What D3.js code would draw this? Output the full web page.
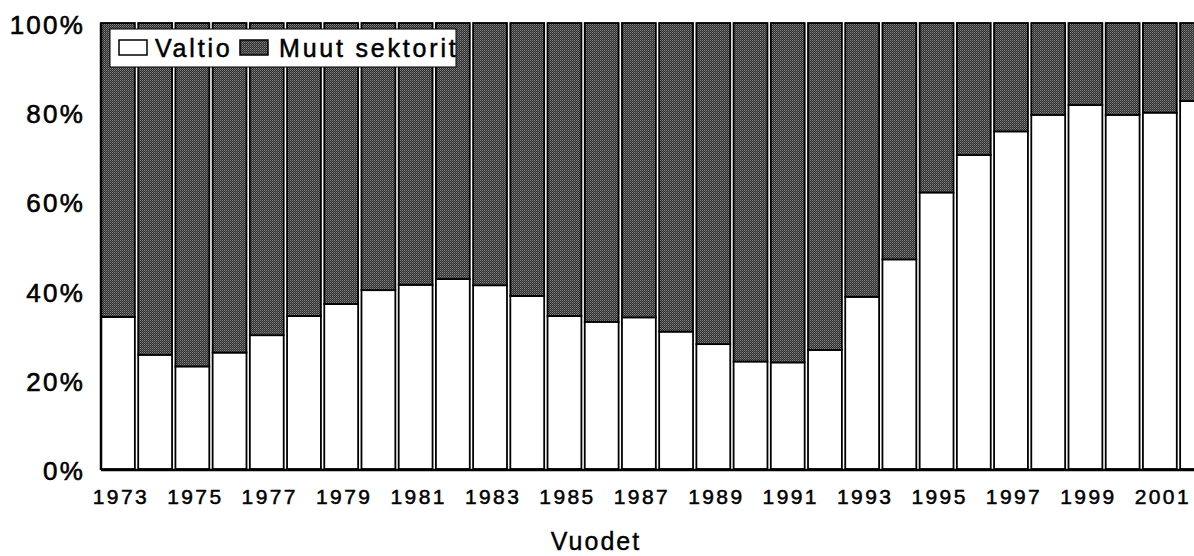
<!DOCTYPE html>
<html>
<head>
<meta charset="utf-8">
<script src="https://cdn.jsdelivr.net/npm/d3@7"></script>
<style>
  body { margin: 0; background: #fff; }
  svg { display: block; font-family: "Liberation Sans", Arial, sans-serif; }
</style>
</head>
<body>
<div id="chart"></div>
<script>
// data (share in %)
const years = [1973, 1974, 1975, 1976, 1977, 1978, 1979, 1980, 1981, 1982,
               1983, 1984, 1985, 1986, 1987, 1988, 1989, 1990, 1991, 1992,
               1993, 1994, 1995, 1996, 1997, 1998, 1999, 2000, 2001, 2002];
const valtio = [34.1, 25.6, 23.0, 26.1, 30.0, 34.3, 37.0, 40.1, 41.3, 42.6,
                41.2, 38.8, 34.3, 33.0, 34.0, 30.8, 28.0, 24.1, 23.9, 26.7,
                38.6, 47.0, 62.0, 70.4, 75.7, 79.4, 81.6, 79.4, 79.9, 82.5];
const muut = [65.9, 74.4, 77.0, 73.9, 70.0, 65.7, 63.0, 59.9, 58.7, 57.4,
              58.8, 61.2, 65.7, 67.0, 66.0, 69.2, 72.0, 75.9, 76.1, 73.3,
              61.4, 53.0, 38.0, 29.6, 24.3, 20.6, 18.4, 20.6, 20.1, 17.5];
const keys = ['Valtio', 'Muut sektorit'];
const yTicks = [0, 20, 40, 60, 80, 100];
const xTickYears = [1973, 1975, 1977, 1979, 1981, 1983, 1985, 1987, 1989, 1991, 1993, 1995, 1997, 1999, 2001];

const W = 1194, H = 556;
const margin = {top: 23, left: 101, bottom: 87};
const bandW = 37.1;
const plotH = H - margin.top - margin.bottom;

const svg = d3.select('#chart').append('svg')
    .attr('width', W)
    .attr('height', H);

// halftone-like fill for the dark series
const defs = svg.append('defs');
const pat = defs.append('pattern')
    .attr('id', 'stipple')
    .attr('width', 2).attr('height', 2)
    .attr('patternUnits', 'userSpaceOnUse');
pat.append('rect').attr('width', 2).attr('height', 2).attr('fill', '#2e2e2e');
pat.append('rect').attr('width', 1).attr('height', 1).attr('fill', '#858585');
pat.append('rect').attr('x', 1).attr('y', 1).attr('width', 1).attr('height', 1).attr('fill', '#5e5e5e');

const table = years.map((y, i) => ({year: y, 'Valtio': valtio[i], 'Muut sektorit': muut[i]}));
const series = d3.stack().keys(keys)(table);

const x = d3.scaleBand()
    .domain(years)
    .range([margin.left, margin.left + bandW * years.length])
    .paddingInner(0.09)
    .paddingOuter(0.0);

const y = d3.scaleLinear()
    .domain([0, 100])
    .range([margin.top + plotH, margin.top]);

const fills = {'Valtio': '#ffffff', 'Muut sektorit': 'url(#stipple)'};

svg.append('g')
  .selectAll('g')
  .data(series)
  .join('g')
    .attr('fill', d => fills[d.key])
  .selectAll('rect')
  .data(d => d)
  .join('rect')
    .attr('x', d => x(d.data.year))
    .attr('y', d => y(d[1]))
    .attr('width', x.bandwidth())
    .attr('height', d => y(d[0]) - y(d[1]))
    .attr('stroke', '#000')
    .attr('stroke-width', 1.8);

// frame: left edge, bottom baseline
svg.append('line')
    .attr('x1', margin.left).attr('x2', margin.left)
    .attr('y1', y(100)).attr('y2', y(0) + 1)
    .attr('stroke', '#000').attr('stroke-width', 2.5);
svg.append('line')
    .attr('x1', margin.left).attr('x2', W)
    .attr('y1', y(0) + 1).attr('y2', y(0) + 1)
    .attr('stroke', '#000').attr('stroke-width', 2.5);

// y axis
const yAxis = d3.axisLeft(y)
    .tickValues(yTicks)
    .tickSize(0)
    .tickPadding(16)
    .tickFormat(d => d + '%');
svg.append('g')
    .attr('transform', 'translate(' + margin.left + ',0)')
    .call(yAxis)
    .call(g => g.select('.domain').remove())
    .selectAll('text')
    .attr('font-size', 26)
    .attr('letter-spacing', 2.2)
    .attr('dy', '0.4em')
    .attr('fill', '#000')
    .attr('stroke', '#000')
    .attr('stroke-width', 0.6)
    .attr('font-family', '"Liberation Sans", Arial, sans-serif');

// x axis
const xAxis = d3.axisBottom(x)
    .tickValues(xTickYears)
    .tickSize(0)
    .tickPadding(20);
svg.append('g')
    .attr('transform', 'translate(0,' + y(0) + ')')
    .call(xAxis)
    .call(g => g.select('.domain').remove())
    .selectAll('text')
    .attr('font-size', 21)
    .attr('letter-spacing', 2.4)
    .attr('dx', 3)
    .attr('fill', '#000')
    .attr('stroke', '#000')
    .attr('stroke-width', 0.5)
    .attr('font-family', '"Liberation Sans", Arial, sans-serif');

svg.append('text')
    .attr('x', 596)
    .attr('y', 550)
    .attr('text-anchor', 'middle')
    .attr('font-size', 25)
    .attr('letter-spacing', 2)
    .attr('stroke', '#000')
    .attr('stroke-width', 0.4)
    .text('Vuodet');

// legend
const lg = svg.append('g');
defs.append('clipPath').attr('id', 'legclip')
  .append('rect').attr('x', 110).attr('y', 29).attr('width', 346).attr('height', 38);
lg.append('rect')
    .attr('x', 110).attr('y', 29).attr('width', 346).attr('height', 38)
    .attr('fill', '#fff').attr('stroke', '#000').attr('stroke-width', 1);
const lgItems = [
  {key: 'Valtio', sx: 119, tx: 155},
  {key: 'Muut sektorit', sx: 240, tx: 279}
];
const li = lg.append('g').attr('clip-path', 'url(#legclip)')
  .selectAll('g').data(lgItems).join('g');
li.append('rect')
    .attr('x', d => d.sx).attr('y', 40).attr('width', 28).attr('height', 15)
    .attr('fill', d => fills[d.key]).attr('stroke', '#000').attr('stroke-width', 1.5);
li.append('text')
    .attr('x', d => d.tx).attr('y', 57)
    .attr('font-size', 25)
    .attr('letter-spacing', 2.8)
    .attr('stroke', '#000')
    .attr('stroke-width', 0.5)
    .text(d => d.key);
</script>
</body>
</html>
